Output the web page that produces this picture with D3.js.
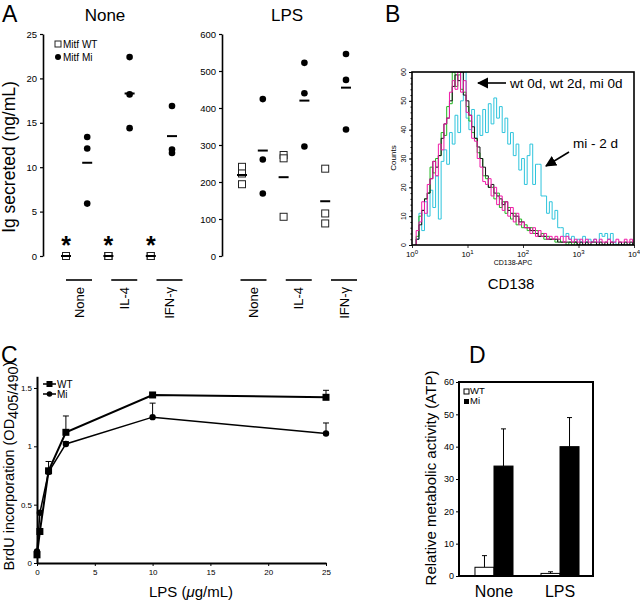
<!DOCTYPE html>
<html><head><meta charset="utf-8">
<script src="https://cdn.jsdelivr.net/npm/d3@7"></script>
<style>
body{margin:0;background:#fff}
svg{display:block}
text{font-family:"Liberation Sans",Arial,Helvetica,sans-serif;fill:#000}
</style>
</head><body>
<svg id="fig" width="640" height="603"></svg>
<script>
// ---------------- Panel A data ----------------
const aColumns = ["WT None","Mi None","WT IL-4","Mi IL-4","WT IFN","Mi IFN"];
const aGroups = ["None","IL-4","IFN-\u03b3"];
const aNoneWT = [[0,0,0],[0,0,0],[0,0,0]];
const aNoneMi = [[13.4,12.1,5.9],[22.4,18.2,14.4],[16.9,12.0,11.6]];
const aNoneWTMean = [0,0,0];
const aNoneMiMean = [10.5,18.3,13.5];
const aLpsWT = [[241,223,194],[273,264,106],[236,115,88]];
const aLpsMi = [[424,261,169],[522,440,296],[546,476,342]];
const aLpsWTMean = [219,213,148];
const aLpsMiMean = [285,420,455];
const aNoneTicks = [0,5,10,15,20,25];
const aLpsTicks = [0,100,200,300,400,500,600];
const aStarValue = 0;

// ---------------- Panel B data (CD138 histogram, log10 channel positions) ----------------
const bLogPos = [0.05,0.10,0.15,0.20,0.25,0.30,0.35,0.40,0.45,0.50,0.55,0.60,0.65,0.70,0.75,0.80,0.85,0.90,0.95,1.00,
 1.05,1.10,1.15,1.20,1.25,1.30,1.35,1.40,1.45,1.50,1.55,1.60,1.65,1.70,1.75,1.80,1.85,1.90,1.95,2.00,
 2.05,2.10,2.15,2.20,2.25,2.30,2.35,2.40,2.45,2.50,2.55,2.60,2.65,2.70,2.75,2.80,2.85,2.90,2.95,3.00,
 3.05,3.10,3.15,3.20,3.25,3.30,3.35,3.40,3.45,3.50,3.55,3.60,3.65,3.70,3.75,3.80,3.85,3.90,3.95,4.00];
const bWt0d = [0,5,8,15,11,21,23,29,24,35,33,42,44,53,57,54,60,53,57,46,
 45,37,36,30,27,22,21,23,17,20,14,17,12,15,10,13,8,11,7,8,
 6,6,4,6,3,5,3,4,2,3,2,3,2,3,1,3,2,1,2,1,
 2,1,2,1,1,2,1,2,1,1,2,1,1,2,1,1,2,1,2,1];
const bWt2d = [0,3,10,12,16,18,27,25,30,31,39,38,48,49,60,55,59,54,53,48,
 43,39,37,32,30,24,23,20,20,16,18,13,15,11,13,9,11,7,9,6,
 7,5,6,4,5,3,4,2,3,2,2,1,2,1,1,0,1,0,1,0,
 0,0,0,0,0,0,0,0,0,0,0,0,0,0,0,0,0,0,0,0];
const bMi0d = [0,2,7,12,16,18,23,29,27,31,37,42,44,50,55,59,57,60,52,50,
 45,41,37,34,30,27,24,20,21,18,17,16,14,15,12,11,10,10,8,8,
 6,6,5,5,4,3,3,3,2,2,2,2,1,1,1,1,1,1,1,0,
 1,0,1,0,1,1,0,1,0,1,0,1,0,0,1,0,1,0,1,0];
const bMi2d = [0,2,11,5,15,10,19,13,24,9,29,33,28,39,35,45,39,50,60,44,
 40,47,37,45,38,47,39,49,42,51,44,48,39,44,35,39,31,35,26,30,
 21,31,35,21,28,28,17,17,11,15,9,12,6,6,3,4,2,3,1,2,
 1,3,1,2,1,2,1,4,3,4,2,4,1,0,0,0,0,0,0,0];
const bYTicks = [0,10,20,30,40,50,60];
const bXDecades = [0,1,2,3,4];

// ---------------- Panel C data ----------------
const cLps = [0,0.25,1,2.5,10,25];
const cWT = [0.07,0.27,0.79,1.12,1.44,1.42];
const cWTErr = [0.01,0.01,0.08,0.14,0.01,0.06];
const cMi = [0.10,0.43,0.78,1.02,1.25,1.11];
const cMiErr = [0.01,0.01,0.01,0.02,0.12,0.09];
const cXTicks = [0,5,10,15,20,25];
const cYTicks = [0,0.5,1,1.5];

// ---------------- Panel D data ----------------
const dCats = ["None","LPS"];
const dWT = [2.7,0.8];
const dWTErr = [3.6,0.5];
const dMi = [34,40];
const dMiErr = [11.5,9];
const dYTicks = [0,10,20,30,40,50,60];

const svg = d3.select("#fig");
const F = '"Liberation Sans",Arial,Helvetica,sans-serif';

function panelLetter(t,x,y){
  svg.append("text").attr("x",x).attr("y",y).attr("font-size",23).text(t);
}

// ================= PANEL A =================
panelLetter("A",2,22);

function drawA(opts){
  const y = d3.scaleLinear().domain(opts.domain).range([256,34]);
  const xc = d3.scalePoint().domain(aColumns).range(opts.colRange);
  const xg = d3.scalePoint().domain(aGroups).range(opts.grpRange);
  const g = svg.append("g");
  const ax = g.append("g").attr("transform",`translate(${opts.axisX},0)`)
    .call(d3.axisLeft(y).tickValues(opts.ticks).tickSize(3).tickSizeOuter(0).tickPadding(3));
  ax.select(".domain").attr("stroke-width",1.6);
  ax.selectAll(".tick line").attr("stroke-width",1.2);
  ax.selectAll("text").attr("font-size",9.5).attr("font-family",F);
  g.append("text").attr("x",opts.titleX).attr("y",21).attr("text-anchor","middle")
    .attr("font-size",17).text(opts.title);
  aGroups.forEach((grp,i)=>{
    const wtX = xc(aColumns[2*i]), miX = xc(aColumns[2*i+1]);
    opts.wt[i].forEach(v=>{
      g.append("rect").attr("x",wtX-3.5).attr("y",y(v)-3.5).attr("width",7).attr("height",7)
        .attr("fill","#fff").attr("stroke","#222").attr("stroke-width",1);
    });
    opts.mi[i].forEach(v=>{
      g.append("circle").attr("cx",miX).attr("cy",y(v)).attr("r",3.3).attr("fill","#000");
    });
    g.append("line").attr("x1",wtX-5).attr("x2",wtX+5).attr("y1",y(opts.wtMean[i])).attr("y2",y(opts.wtMean[i]))
      .attr("stroke","#000").attr("stroke-width",2);
    g.append("line").attr("x1",miX-5).attr("x2",miX+5).attr("y1",y(opts.miMean[i])).attr("y2",y(opts.miMean[i]))
      .attr("stroke","#000").attr("stroke-width",2);
    if(opts.stars){
      g.append("text").attr("x",wtX).attr("y",y(aStarValue)-2).attr("text-anchor","middle")
        .attr("font-size",25).attr("font-weight","bold").text("*");
    }
    const gc = xg(grp);
    g.append("line").attr("x1",gc-13).attr("x2",gc+13).attr("y1",280).attr("y2",280)
      .attr("stroke","#000").attr("stroke-width",1.6);
    g.append("text").attr("transform",`translate(${gc+4.5},287) rotate(-90)`)
      .attr("text-anchor","end").attr("font-size",13).text(grp);
  });
}
drawA({domain:[0,25],ticks:aNoneTicks,axisX:43,colRange:[66,172],grpRange:[79,169.5],
  wt:aNoneWT,mi:aNoneMi,wtMean:aNoneWTMean,miMean:aNoneMiMean,title:"None",titleX:105,stars:true});
drawA({domain:[0,600],ticks:aLpsTicks,axisX:222,colRange:[242,346],grpRange:[253.5,344],
  wt:aLpsWT,mi:aLpsMi,wtMean:aLpsWTMean,miMean:aLpsMiMean,title:"LPS",titleX:287,stars:false});

svg.append("text").attr("transform","translate(15,157) rotate(-90)").attr("text-anchor","middle")
  .attr("font-size",17.5).text("Ig secreted (ng/mL)");
// legend A
svg.append("rect").attr("x",55).attr("y",41).attr("width",6).attr("height",6).attr("fill","#fff").attr("stroke","#222");
svg.append("text").attr("x",63).attr("y",48).attr("font-size",10).text("Mitf WT");
svg.append("circle").attr("cx",58).attr("cy",57).attr("r",3);
svg.append("text").attr("x",63).attr("y",61).attr("font-size",10).text("Mitf Mi");

// ================= PANEL B =================
panelLetter("B",385,22);
const bx = d3.scaleLog().domain([1,1e4]).range([412,634]);
const by = d3.scaleLinear().domain([0,60]).range([245,72]);
const defs = svg.append("defs");
defs.append("clipPath").attr("id","bclip").append("rect").attr("x",412).attr("y",72).attr("width",222).attr("height",173);
defs.append("marker").attr("id","arr").attr("viewBox","0 0 10 10").attr("refX",9).attr("refY",5)
  .attr("markerWidth",7).attr("markerHeight",7).attr("orient","auto-start-reverse")
  .append("path").attr("d","M0,0 L10,5 L0,10 z").attr("fill","#000");

const histLine = d3.line().x((d,i)=>bx(Math.pow(10,bLogPos[i]))).y(d=>by(d)).curve(d3.curveStep);
const hg = svg.append("g").attr("clip-path","url(#bclip)");
[[bMi2d,"#2ec4dc"],[bWt2d,"#1fb81f"],[bMi0d,"#111"],[bWt0d,"#f01aa8"]].forEach(([arr,col])=>{
  hg.append("path").attr("d",histLine(arr)).attr("fill","none").attr("stroke",col).attr("stroke-width",1);
});
svg.append("rect").attr("x",412).attr("y",72).attr("width",222).attr("height",173)
  .attr("fill","none").attr("stroke","#000").attr("stroke-width",1.6);
// x axis log
const bxAx = svg.append("g").attr("transform","translate(0,245)")
  .call(d3.axisBottom(bx).ticks(4).tickSize(3).tickFormat(""));
bxAx.select(".domain").remove();
bxAx.selectAll(".tick line").attr("stroke-width",0.8);
bxAx.selectAll(".tick").filter(d=>!bXDecades.includes(Math.round(Math.log10(d)*1000)/1000)).select("line").attr("y2",1.8);
bXDecades.forEach(e=>{
  const t = svg.append("text").attr("x",bx(Math.pow(10,e))).attr("y",257).attr("text-anchor","middle").attr("font-size",8);
  t.append("tspan").text("10");
  t.append("tspan").attr("dy",-3).attr("font-size",6).text(e);
});
// y axis
const byAx = svg.append("g").attr("transform","translate(412,0)")
  .call(d3.axisLeft(by).tickValues(bYTicks).tickSize(3).tickFormat(""));
byAx.select(".domain").remove();
svg.append("g").attr("transform","translate(412,0)")
  .call(d3.axisLeft(by).tickValues(d3.range(0,61,2)).tickSize(1.5).tickFormat("")).select(".domain").remove();
bYTicks.forEach(v=>{
  svg.append("text").attr("transform",`translate(406,${by(v)}) rotate(-90)`).attr("text-anchor","middle")
    .attr("font-size",7).text(v);
});
svg.append("text").attr("transform","translate(396,158) rotate(-90)").attr("text-anchor","middle")
  .attr("font-size",8).text("Counts");
svg.append("text").attr("x",513).attr("y",265).attr("text-anchor","middle").attr("font-size",7).text("CD138-APC");
svg.append("text").attr("x",511).attr("y",289).attr("text-anchor","middle").attr("font-size",15).text("CD138");
svg.append("line").attr("x1",506).attr("y1",83).attr("x2",478).attr("y2",83)
  .attr("stroke","#000").attr("stroke-width",1.6).attr("marker-end","url(#arr)");
svg.append("text").attr("x",510).attr("y",88).attr("font-size",13.5).text("wt 0d, wt 2d, mi 0d");
svg.append("line").attr("x1",569).attr("y1",152).attr("x2",546).attr("y2",166)
  .attr("stroke","#000").attr("stroke-width",1.6).attr("marker-end","url(#arr)");
svg.append("text").attr("x",573).attr("y",148).attr("font-size",13.5).text("mi - 2 d");

// ================= PANEL C =================
panelLetter("C",1,363);
const cx = d3.scaleLinear().domain([0,25]).range([37,326]);
const cy = d3.scaleLinear().domain([0,1.6]).range([563,376.3]);
const cxAx = svg.append("g").attr("transform","translate(0,563)")
  .call(d3.axisBottom(cx).tickValues(cXTicks).tickSize(3).tickSizeOuter(0).tickPadding(3));
cxAx.select(".domain").attr("stroke-width",2);
cxAx.selectAll("text").attr("font-size",8).attr("font-family",F);
const cyAx = svg.append("g").attr("transform","translate(37,0)")
  .call(d3.axisLeft(cy).tickValues(cYTicks).tickSize(3).tickSizeOuter(0).tickPadding(2).tickFormat(d=>d));
cyAx.select(".domain").attr("stroke-width",2);
cyAx.selectAll("text").attr("font-size",8).attr("font-family",F);

function drawSeries(vals,errs,sw,marker){
  const line = d3.line().x((d,i)=>cx(cLps[i])).y(d=>cy(d));
  svg.append("path").attr("d",line(vals)).attr("fill","none").attr("stroke","#000").attr("stroke-width",sw);
  vals.forEach((v,i)=>{
    if(errs[i]>0.015){
      svg.append("line").attr("x1",cx(cLps[i])).attr("x2",cx(cLps[i])).attr("y1",cy(v)).attr("y2",cy(v+errs[i])).attr("stroke","#000").attr("stroke-width",1);
      svg.append("line").attr("x1",cx(cLps[i])-3).attr("x2",cx(cLps[i])+3).attr("y1",cy(v+errs[i])).attr("y2",cy(v+errs[i])).attr("stroke","#000").attr("stroke-width",1);
    }
    if(marker==="sq") svg.append("rect").attr("x",cx(cLps[i])-3.5).attr("y",cy(v)-3.5).attr("width",7).attr("height",7);
    else svg.append("circle").attr("cx",cx(cLps[i])).attr("cy",cy(v)).attr("r",3.2);
  });
}
drawSeries(cMi,cMiErr,1.5,"ci");
drawSeries(cWT,cWTErr,2,"sq");
// legend C
svg.append("line").attr("x1",43).attr("x2",56).attr("y1",384).attr("y2",384).attr("stroke","#000").attr("stroke-width",1.5);
svg.append("rect").attr("x",46.5).attr("y",381).attr("width",6).attr("height",6);
svg.append("text").attr("x",57).attr("y",388).attr("font-size",10).text("WT");
svg.append("line").attr("x1",43).attr("x2",56).attr("y1",394).attr("y2",394).attr("stroke","#000").attr("stroke-width",1.5);
svg.append("circle").attr("cx",49.5).attr("cy",394).attr("r",2.8);
svg.append("text").attr("x",57).attr("y",398).attr("font-size",10).text("Mi");
const cyl = svg.append("text").attr("transform","translate(14,466) rotate(-90)").attr("text-anchor","middle").attr("font-size",14.5);
cyl.append("tspan").text("BrdU incorporation (OD");
cyl.append("tspan").attr("dy",4).text("405/490");
cyl.append("tspan").attr("dy",-4).text(")");
const cxl = svg.append("text").attr("x",191).attr("y",597).attr("text-anchor","middle").attr("font-size",15);
cxl.append("tspan").text("LPS (");
cxl.append("tspan").attr("font-style","italic").text("\u03bc");
cxl.append("tspan").text("g/mL)");

// ================= PANEL D =================
panelLetter("D",469,363);
const dx = d3.scaleBand().domain(dCats).range([459,595]).paddingInner(0.424).paddingOuter(0.242);
const dy = d3.scaleLinear().domain([0,60]).range([576,382]);
const dSub = d3.scaleBand().domain(["WT","Mi"]).range([0,dx.bandwidth()]);
const dyAx = svg.append("g").attr("transform","translate(459,0)")
  .call(d3.axisLeft(dy).tickValues(dYTicks).tickSize(3).tickPadding(2));
dyAx.select(".domain").remove();
dyAx.selectAll("text").attr("font-size",9).attr("font-family",F);
dCats.forEach((c,i)=>{
  const x0 = dx(c);
  [[dWT,dWTErr,"WT","#fff"],[dMi,dMiErr,"Mi","#000"]].forEach(([vals,errs,k,fill])=>{
    const bx0 = x0+dSub(k), bw = dSub.bandwidth();
    svg.append("line").attr("x1",bx0+bw/2).attr("x2",bx0+bw/2).attr("y1",dy(vals[i])).attr("y2",dy(vals[i]+errs[i])).attr("stroke","#000").attr("stroke-width",1);
    svg.append("line").attr("x1",bx0+bw/2-2.5).attr("x2",bx0+bw/2+2.5).attr("y1",dy(vals[i]+errs[i])).attr("y2",dy(vals[i]+errs[i])).attr("stroke","#000").attr("stroke-width",1);
    svg.append("rect").attr("x",bx0).attr("y",dy(vals[i])).attr("width",bw).attr("height",dy(0)-dy(vals[i]))
      .attr("fill",fill).attr("stroke","#000").attr("stroke-width",1);
  });
  svg.append("text").attr("x",x0+dx.bandwidth()/2).attr("y",597).attr("text-anchor","middle").attr("font-size",16).text(c);
});
svg.append("rect").attr("x",459).attr("y",382).attr("width",134).attr("height",194).attr("fill","none").attr("stroke","#000").attr("stroke-width",2);
svg.append("rect").attr("x",464).attr("y",389).attr("width",5).attr("height",5).attr("fill","#fff").attr("stroke","#000");
svg.append("text").attr("x",470).attr("y",394).attr("font-size",9.5).text("WT");
svg.append("rect").attr("x",464).attr("y",399).attr("width",5).attr("height",5).attr("fill","#000");
svg.append("text").attr("x",470).attr("y",404).attr("font-size",9.5).text("Mi");
svg.append("text").attr("transform","translate(436,478) rotate(-90)").attr("text-anchor","middle")
  .attr("font-size",15).text("Relative metabolic activity (ATP)");
</script>
</body></html>
